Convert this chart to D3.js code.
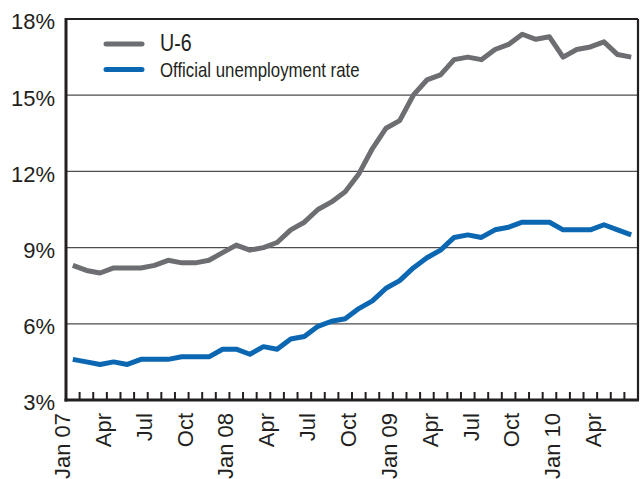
<!DOCTYPE html>
<html>
<head>
<meta charset="utf-8">
<script src="https://cdn.jsdelivr.net/npm/d3@7"></script>
<style>
  html, body { margin: 0; padding: 0; background: #fff; }
  svg { display: block; }
  text { font-family: "Liberation Sans", Arial, sans-serif; fill: #231f20; }
</style>
</head>
<body>
<svg id="chart" width="644" height="479"></svg>
<script>
// ---- data ----
const months = [
  "2007-01","2007-02","2007-03","2007-04","2007-05","2007-06","2007-07","2007-08","2007-09","2007-10","2007-11","2007-12",
  "2008-01","2008-02","2008-03","2008-04","2008-05","2008-06","2008-07","2008-08","2008-09","2008-10","2008-11","2008-12",
  "2009-01","2009-02","2009-03","2009-04","2009-05","2009-06","2009-07","2009-08","2009-09","2009-10","2009-11","2009-12",
  "2010-01","2010-02","2010-03","2010-04","2010-05","2010-06"
];
const u6 = [8.3,8.1,8.0,8.2,8.2,8.2,8.3,8.5,8.4,8.4,8.5,8.8,
            9.1,8.9,9.0,9.2,9.7,10.0,10.5,10.8,11.2,11.9,12.9,13.7,
            14.0,15.0,15.6,15.8,16.4,16.5,16.4,16.8,17.0,17.4,17.2,17.3,
            16.5,16.8,16.9,17.1,16.6,16.5];
const official = [4.6,4.5,4.4,4.5,4.4,4.6,4.6,4.6,4.7,4.7,4.7,5.0,
                  5.0,4.8,5.1,5.0,5.4,5.5,5.9,6.1,6.2,6.6,6.9,7.4,
                  7.7,8.2,8.6,8.9,9.4,9.5,9.4,9.7,9.8,10.0,10.0,10.0,
                  9.7,9.7,9.7,9.9,9.7,9.5];
const xTickMonths = ["2007-01","2007-04","2007-07","2007-10","2008-01","2008-04","2008-07","2008-10",
                     "2009-01","2009-04","2009-07","2009-10","2010-01","2010-04"];
const xTickLabels = ["Jan 07","Apr","Jul","Oct","Jan 08","Apr","Jul","Oct",
                     "Jan 09","Apr","Jul","Oct","Jan 10","Apr"];
const yTicks = [3, 6, 9, 12, 15, 18];
const gridTicks = [6, 9, 12, 15];
const seriesNames = ["U-6", "Official unemployment rate"];
const seriesColors = ["#6d6e71", "#0b67b2"];

// ---- layout ----
const plotL = 66, plotR = 638, plotT = 19, plotB = 400;
const svg = d3.select("#chart");

const x = d3.scaleBand().domain(months).range([plotL, plotR]).padding(0);
const y = d3.scaleLinear().domain([3, 18]).range([plotB, plotT]);
const cx = m => x(m) + x.bandwidth() / 2;

// gridlines
svg.append("g").selectAll("line").data(gridTicks).join("line")
  .attr("x1", plotL).attr("x2", plotR)
  .attr("y1", d => y(d)).attr("y2", d => y(d))
  .attr("stroke", "#4d4d4f").attr("stroke-width", 1.3);

// frame: top & right thinner
svg.append("line").attr("x1", plotL).attr("x2", plotR).attr("y1", y(18)).attr("y2", y(18))
  .attr("stroke", "#231f20").attr("stroke-width", 2);
svg.append("line").attr("x1", plotR).attr("x2", plotR).attr("y1", y(18)).attr("y2", y(3))
  .attr("stroke", "#231f20").attr("stroke-width", 2.2);

// y axis labels
const yAxis = d3.axisLeft(y).tickValues(yTicks).tickSize(0).tickPadding(11)
  .tickFormat(d => d + "%");
const gy = svg.append("g").attr("transform", `translate(${plotL},0)`).call(yAxis);
gy.select(".domain").remove();
gy.selectAll("text").attr("font-size", 22).attr("dy", "0.45em")
  .style("font-family", '"Liberation Sans", Arial, sans-serif').attr("fill", "#231f20");

// x ticks (month boundaries, pointing up)
svg.append("g").selectAll("line").data(months.slice(1)).join("line")
  .attr("x1", d => x(d)).attr("x2", d => x(d))
  .attr("y1", plotB).attr("y2", plotB - 8)
  .attr("stroke", "#231f20").attr("stroke-width", 2);

// x labels (rotated)
svg.append("g").selectAll("text").data(xTickMonths).join("text")
  .attr("transform", d => `translate(${x(d) + 4},${plotB + 13}) rotate(-90)`)
  .attr("text-anchor", "end")
  .attr("font-size", 22)
  .text((d, i) => xTickLabels[i]);

// axis lines
svg.append("line").attr("x1", plotL).attr("x2", plotL).attr("y1", y(18) - 1).attr("y2", plotB + 1.5)
  .attr("stroke", "#231f20").attr("stroke-width", 3);
svg.append("line").attr("x1", plotL - 1.5).attr("x2", plotR + 1).attr("y1", plotB).attr("y2", plotB)
  .attr("stroke", "#231f20").attr("stroke-width", 3);

// series lines
const line = d3.line().x((d, i) => cx(months[i])).y(d => y(d));
[u6, official].forEach((s, k) => {
  svg.append("path").datum(s)
    .attr("d", line)
    .attr("fill", "none")
    .attr("stroke", seriesColors[k])
    .attr("stroke-width", 5)
    .attr("stroke-linejoin", "round")
    .attr("stroke-linecap", "butt");
});

// legend
const legY = [44, 69.5];
const legSize = [24, 20.5];
const legBase = [51, 77];
seriesNames.forEach((name, k) => {
  svg.append("line")
    .attr("x1", 106).attr("x2", 142)
    .attr("y1", legY[k]).attr("y2", legY[k])
    .attr("stroke", seriesColors[k]).attr("stroke-width", 5)
    .attr("stroke-linecap", "round");
  svg.append("text")
    .attr("transform", `translate(160,${legBase[k]}) scale(0.82,1)`)
    .attr("font-size", legSize[k])
    .text(name);
});
</script>
</body>
</html>
